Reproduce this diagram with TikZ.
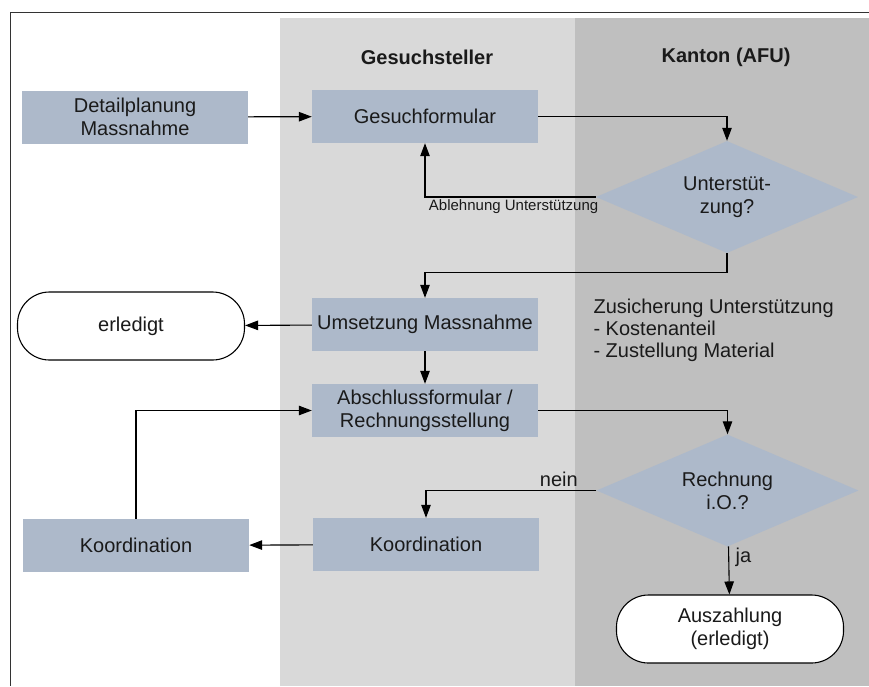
\documentclass[tikz,border=0pt]{standalone}
\usepackage{fontspec}
\setmainfont{Liberation Sans}
\usetikzlibrary{arrows.meta, positioning, shapes.geometric}
\definecolor{kasten}{HTML}{ADB9CA}
\definecolor{bahnhell}{HTML}{D9D9D9}
\definecolor{bahndunkel}{HTML}{BFBFBF}
\definecolor{schrift}{HTML}{1A1A1A}
\newcommand{\gross}{\fontsize{20}{23}\selectfont}
\newcommand{\klein}{\fontsize{15}{17}\selectfont}
\tikzset{
        >={Triangle[length=13pt,width=9.5pt]}, % filled arrow heads
        flow/.style={->, line width=1.1pt}, % connectors between the steps
        kopf/.style={font=\gross\bfseries}, % lane titles
    }
\tikzstyle{schritt}=[fill=kasten,minimum width=226pt,minimum height=53pt,inner sep=0pt,align=center]
\tikzstyle{frage}=[diamond,fill=kasten,aspect=2.35,minimum width=262pt,minimum height=112pt,inner sep=0pt,align=center]
\tikzstyle{ende}=[draw,line width=1.1pt,fill=white,rounded corners=32pt,minimum width=227pt,minimum height=68pt,align=center]

\begin{document}
\begin{tikzpicture}[font=\gross,text=schrift,x=1pt,y=-1pt]
    \useasboundingbox (0,0) rectangle (869,686);
    % lanes and frame
    \fill[bahnhell] (280,18) rectangle (575,686);
    \fill[bahndunkel] (575,18) rectangle (869,686);
    \draw[line width=1pt,black!80] (869,12) -- (10,12) -- (10,686);
    \node[kopf] (gsteller) at (427,57) {Gesuchsteller};
    \node[kopf] (kanton) at (726,57) {Kanton (AFU)};

    % steps
    \node[schritt] (detail) at (135,117) {Detailplanung\\Massnahme};
    \node[schritt] (gesuch) at (425,116.5) {Gesuchformular};
    \node[frage] (unterst) at (727,197) {Unterstüt-\\zung?};
    \node[schritt] (umsetz) at (425,324.5) {Umsetzung Massnahme};
    \node[ende] (erledigt) at (131,326) {erledigt};
    \node[anchor=west,align=left,font=\fontsize{20}{22}\selectfont] (zusich) at (590,330)
        {Zusicherung Unterstützung\\- Kostenanteil\\- Zustellung Material};
    \node[schritt] (abschl) at (425,410.5) {Abschlussformular /\\Rechnungsstellung};
    \node[frage] (rechn) at (727.5,490.5) {Rechnung\\i.O.?};
    \node[schritt] (koordG) at (426,544.5) {Koordination};
    \node[schritt] (koordL) at (136,545.5) {Koordination};
    \node[ende] (auszahl) at (730,629) {Auszahlung\\(erledigt)};

    % connectors
    \draw[flow] (detail) -- (gesuch);
    \draw[flow] (gesuch) -| (unterst);
    \draw[flow] (unterst.west) node[font=\klein,anchor=north east,inner sep=2pt,xshift=5pt] (ablehn) {Ablehnung Unterstützung} -| (gesuch);
    \draw[flow] (unterst.south) -- ++(0,19) -| (umsetz);
    \draw[flow] (umsetz) -- (erledigt);
    \draw[flow] (umsetz) -- (abschl);
    \draw[flow] (abschl) -| (rechn);
    \draw[flow] (rechn) -| node[pos=0.11,above] (nein) {nein} (koordG);
    \draw[flow] (rechn) -- node[pos=0.22,right,xshift=3pt] (ja) {ja} (auszahl);
    \draw[flow] (koordG) -- (koordL);
    \draw[flow] (koordL) |- (abschl);
\end{tikzpicture}
\end{document}
